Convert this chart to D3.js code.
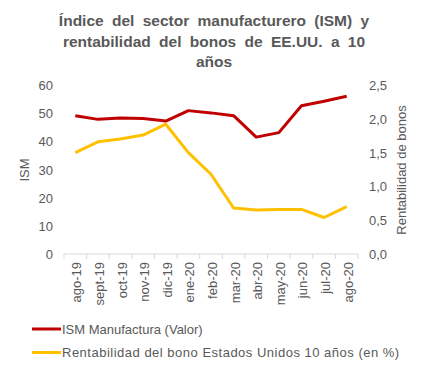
<!DOCTYPE html>
<html>
<head>
<meta charset="utf-8">
<script src="https://cdn.jsdelivr.net/npm/d3@7"></script>
<style>
  body { margin: 0; background: #fff; }
  text { font-family: "Liberation Sans", Arial, sans-serif; fill: #595959; }
</style>
</head>
<body>
<div id="chart"></div>
<script>
const months = ["ago-19", "sept-19", "oct-19", "nov-19", "dic-19", "ene-20", "feb-20",
  "mar-20", "abr-20", "may-20", "jun-20", "jul-20", "ago-20"];
const ism = [49.1, 47.8, 48.3, 48.1, 47.2, 50.9, 50.1, 49.1, 41.5, 43.1, 52.6, 54.2, 56.0];
const yields = [1.50, 1.66, 1.70, 1.76, 1.92, 1.50, 1.18, 0.68, 0.65, 0.66, 0.66, 0.54, 0.70];
const leftTicks = [0, 10, 20, 30, 40, 50, 60];
const rightTicks = [0, 0.5, 1, 1.5, 2, 2.5];
const titleLines = ["Índice del sector manufacturero (ISM) y", "rentabilidad del bonos de EE.UU. a 10", "años"];

const width = 427, height = 371;
const svg = d3.select("#chart").append("svg")
  .attr("width", width)
  .attr("height", height);

const x = d3.scaleBand().domain(months).range([64, 358]);
const yL = d3.scaleLinear().domain([0, 60]).range([254, 85]);
const yR = d3.scaleLinear().domain([0, 2.5]).range([254, 85]);

// title
svg.append("g").selectAll("text")
  .data(titleLines)
  .enter().append("text")
  .attr("x", 214)
  .attr("y", (d, i) => 26 + i * 20.5)
  .attr("text-anchor", "middle")
  .style("font-size", "15.5px")
  .style("font-weight", "bold")
  .style("word-spacing", "4px")
  .text(d => d);

// left axis
const leftAxis = svg.append("g")
  .attr("transform", "translate(53,0)")
  .call(d3.axisLeft(yL).tickValues(leftTicks).tickSize(0).tickPadding(0));
leftAxis.select(".domain").remove();
leftAxis.selectAll("text").style("font-size", "13px").attr("dy", "0.35em").style("fill", "#595959");

// right axis
const rightAxis = svg.append("g")
  .attr("transform", "translate(369,0)")
  .call(d3.axisRight(yR).tickValues(rightTicks).tickSize(0).tickPadding(0)
    .tickFormat(d => d3.format(".1f")(d).replace(".", ",")));
rightAxis.select(".domain").remove();
rightAxis.selectAll("text").style("font-size", "13px").attr("dy", "0.35em").style("fill", "#595959");

// x axis
const bw = x.bandwidth();
const xAxis = svg.append("g").attr("transform", "translate(0,254)");
xAxis.append("line")
  .attr("x1", x.range()[0]).attr("x2", x.range()[1])
  .attr("stroke", "#d9d9d9");
xAxis.selectAll(".tk")
  .data(months.concat(["end"]))
  .enter().append("line")
  .attr("x1", (d, i) => x.range()[0] + i * bw)
  .attr("x2", (d, i) => x.range()[0] + i * bw)
  .attr("y1", 0).attr("y2", 5)
  .attr("stroke", "#d9d9d9");
xAxis.selectAll(".lbl")
  .data(months)
  .enter().append("text")
  .attr("transform", d => "translate(" + (x(d) + bw / 2 + 6) + ",8) rotate(-90)")
  .attr("text-anchor", "end")
  .style("font-size", "13px")
  .text(d => d);

// axis titles
svg.append("text")
  .attr("transform", "translate(29,170) rotate(-90)")
  .attr("text-anchor", "middle")
  .style("font-size", "13px")
  .text("ISM");
svg.append("text")
  .attr("transform", "translate(406,170) rotate(-90)")
  .attr("text-anchor", "middle")
  .style("font-size", "13px")
  .text("Rentabilidad de bonos");

// lines
const lineL = d3.line().x((d, i) => x(months[i]) + bw / 2).y(d => yL(d));
const lineR = d3.line().x((d, i) => x(months[i]) + bw / 2).y(d => yR(d));

svg.append("path")
  .datum(yields)
  .attr("d", lineR)
  .attr("fill", "none")
  .attr("stroke", "#ffc000")
  .attr("stroke-width", 3)
  .attr("stroke-linejoin", "round");

svg.append("path")
  .datum(ism)
  .attr("d", lineL)
  .attr("fill", "none")
  .attr("stroke", "#c00000")
  .attr("stroke-width", 3)
  .attr("stroke-linejoin", "round");

// legend
const legend = [
  { name: "ISM Manufactura (Valor)", color: "#c00000", spacing: "0px" },
  { name: "Rentabilidad del bono Estados Unidos 10 años (en %)", color: "#ffc000", spacing: "0.5px" }
];
const lg = svg.append("g").selectAll("g")
  .data(legend)
  .enter().append("g")
  .attr("transform", (d, i) => "translate(0," + (329 + i * 23.5) + ")");
lg.append("line")
  .attr("x1", 32).attr("x2", 61)
  .attr("stroke", d => d.color)
  .attr("stroke-width", 3);
lg.append("text")
  .attr("x", 62)
  .attr("dy", "0.35em")
  .style("font-size", "13px")
  .style("letter-spacing", d => d.spacing)
  .text(d => d.name);
</script>
</body>
</html>
